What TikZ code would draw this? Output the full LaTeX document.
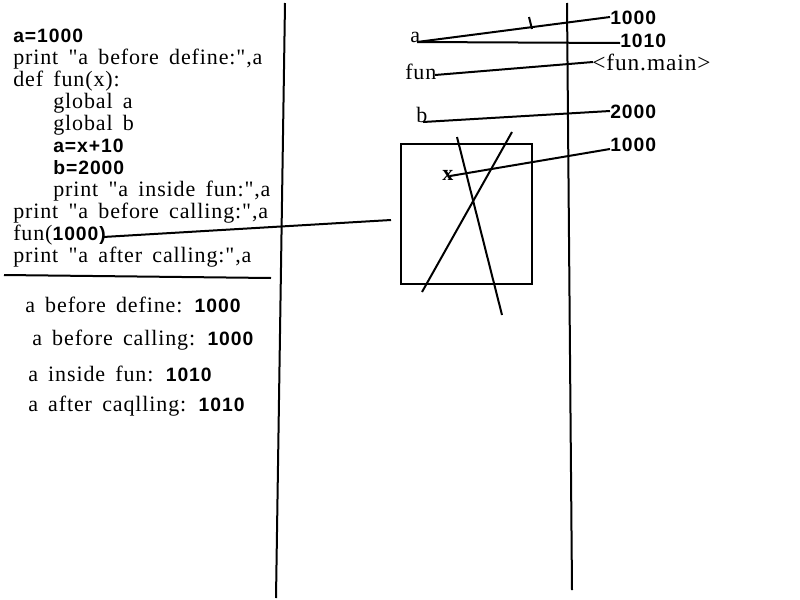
\documentclass[tikz,border=0pt]{standalone}
\usepackage{fontspec}
\setmainfont{Liberation Serif}[Ligatures=TeXOff,WordSpace=1.6,LetterSpace=4]
\newfontfamily\sa{Liberation Sans}[LetterSpace=5]
\newcommand{\nm}[1]{{\sa\bfseries\fontsize{14.5}{17}\selectfont #1}}
\begin{document}
\begin{tikzpicture}[x=0.75pt,y=-0.75pt,
  txt/.style={anchor=base west,inner sep=0pt,font=\fontsize{16.5}{19}\selectfont},
  ln/.style={line width=1.5pt}]
\useasboundingbox (0,0) rectangle (800,600);
% code
\node[txt] (c1) at (13,42) {\nm{a=1000}};
\node[txt] (c2) at (13,64) {print "a before define:",a};
\node[txt] (c3) at (13,86) {def fun(x):};
\node[txt] (c4) at (53,108) {global a};
\node[txt] (c5) at (53,130) {global b};
\node[txt] (c6) at (53,152) {\nm{a=x+10}};
\node[txt] (c7) at (53,174) {\nm{b=2000}};
\node[txt] (c8) at (53,196) {print "a inside fun:",a};
\node[txt] (c9) at (13,218) {print "a before calling:",a};
\node[txt] (c10) at (13,240) {fun(\nm{1000)}};
\node[txt] (c11) at (13,262) {print "a after calling:",a};
% output
\node[txt] (o1) at (25,312) {a before define: \nm{1000}};
\node[txt] (o2) at (32,345) {a before calling: \nm{1000}};
\node[txt] (o3) at (28,381) {a inside fun: \nm{1010}};
\node[txt] (o4) at (28,411) {a after caqlling: \nm{1010}};
% separators
\coordinate (h1) at (4,275); \coordinate (h2) at (271,278);
\draw[ln] (h1) -- (h2);
\coordinate (v1t) at (285,3); \coordinate (v1b) at (276,598);
\coordinate (v2t) at (567,3); \coordinate (v2b) at (572,590);
\draw[ln] (v1t) -- (v1b);
\draw[ln] (v2t) -- (v2b);
% call line
\coordinate (callA) at (103,237); \coordinate (callB) at (391,220);
\draw[ln] (callA) -- (callB);
% names
\node[txt] (na) at (410,42) {a};
\node[txt] (nfun) at (405,79) {fun};
\node[txt] (nb) at (416,122) {b};
\node[txt] (nx) at (442,180) {\textbf{x}};
% values
\node[txt] (v1000) at (610,24) {\nm{1000}};
\node[txt] (v1010) at (620,47) {\nm{1010}};
\node[txt,font=\fontsize{17.5}{19}\selectfont] (vfun) at (592,70) {<fun.main>};
\node[txt] (v2000) at (610,118) {\nm{2000}};
\node[txt] (vx) at (610,151) {\nm{1000}};
% links
\coordinate (aS) at (417,42);
\coordinate (aE1) at (610,17); \coordinate (aE2) at (620,43);
\draw[ln] (aS) -- (aE1);
\draw[ln] (aS) -- (aE2);
\coordinate (tk1) at (529,17); \coordinate (tk2) at (532,29);
\draw[ln] (tk1) -- (tk2);
\coordinate (fS) at (435,75); \coordinate (fE) at (593,62);
\draw[ln] (fS) -- (fE);
\coordinate (bS) at (423,122); \coordinate (bE) at (610,111);
\draw[ln] (bS) -- (bE);
\coordinate (xS) at (450,176); \coordinate (xE) at (610,149);
\draw[ln] (xS) -- (xE);
% frame box
\node[draw,line width=1.5pt,minimum width=131*0.75pt,minimum height=140*0.75pt,anchor=north west,inner sep=0pt] (frame) at (400,143) {};
\coordinate (k1) at (457,137); \coordinate (k2) at (502,315);
\coordinate (k3) at (512,132); \coordinate (k4) at (422,292);
\draw[ln] (k1) -- (k2);
\draw[ln] (k3) -- (k4);
\end{tikzpicture}
\end{document}
